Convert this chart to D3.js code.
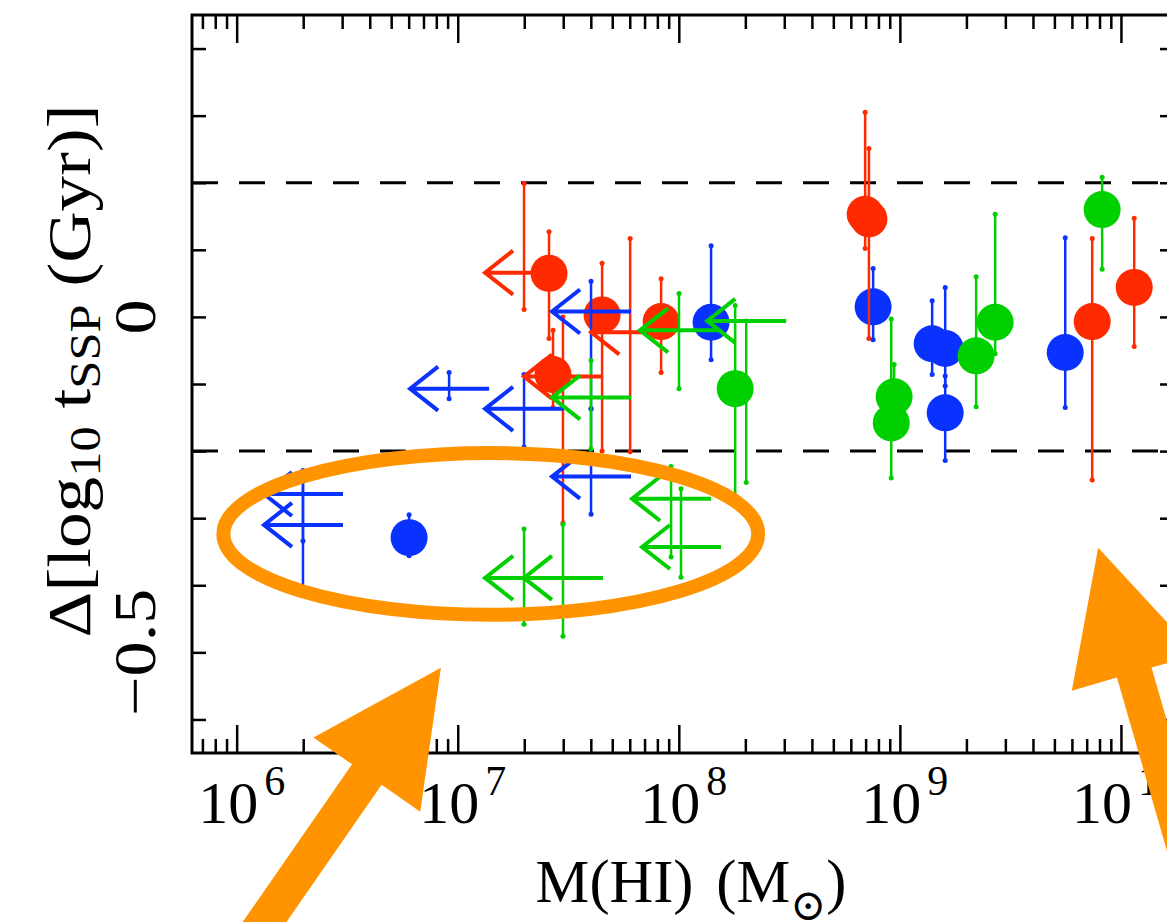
<!DOCTYPE html>
<html>
<head>
<meta charset="utf-8">
<script src="https://cdn.jsdelivr.net/npm/d3@7"></script>
<style>
  html, body { margin: 0; padding: 0; background: #fff; overflow: hidden; }
  text { font-family: "Liberation Serif", "Times New Roman", "DejaVu Serif", serif; fill: #000; }
</style>
</head>
<body>
<svg id="chart" width="1167" height="922"></svg>
<script>
// Each row: [log10 M(HI), Δ log t_SSP, lower end of error bar, upper end of error bar]
const redDetections = [
  [7.413,  0.065, -0.032,  0.127],
  [7.653,  0.003, -0.200,  0.080],
  [7.920, -0.007, -0.083,  0.057],
  [8.843,  0.153,  0.102,  0.305],
  [8.860,  0.146, -0.032,  0.251],
  [9.870, -0.007, -0.243,  0.117],
  [10.060, 0.044, -0.044,  0.147],
  [7.431, -0.086, -0.135, -0.020]
];
const redLimits = [
  [7.300,  0.066,  0.011,  0.199],
  [7.780, -0.023, -0.201,  0.117],
  [7.476, -0.089, -0.307,  0.000]
];
const blueDetections = [
  [8.146, -0.008, -0.064,  0.106],
  [8.879,  0.015, -0.034,  0.072],
  [9.146, -0.040, -0.086,  0.024],
  [9.205, -0.047, -0.103,  0.044],
  [9.205, -0.143, -0.214, -0.088],
  [9.748, -0.053, -0.135,  0.118],
  [6.780, -0.329, -0.356, -0.295]
];
const blueLimits = [
  [7.603,  0.008, -0.137,  0.053],
  [7.603, -0.238, -0.294, -0.137],
  [7.300, -0.137, -0.194, -0.086],
  [6.961, -0.107, -0.122, -0.083],
  [6.300, -0.264, -0.334, -0.232],
  [6.300, -0.310, -0.404, -0.229]
];
const greenDetections = [
  [8.255, -0.107, -0.267,  0.017],
  [8.974, -0.119, -0.170, -0.071],
  [8.961, -0.158, -0.240, -0.003],
  [9.345, -0.058, -0.134,  0.060],
  [9.431, -0.008, -0.055,  0.153],
  [9.915,  0.160,  0.071,  0.208]
];
const greenLimits = [
  [8.305, -0.006, -0.247, -0.006],
  [8.001, -0.020, -0.107,  0.035],
  [7.603, -0.120, -0.197, -0.065],
  [7.300, -0.389, -0.458, -0.316],
  [7.476, -0.389, -0.476, -0.309],
  [7.965, -0.271, -0.358, -0.223],
  [8.010, -0.343, -0.388, -0.256]
];

// Axis labelling
const xTickExponents = [6, 7, 8, 9, 10];
const yTickLabels = [[0, "0"], [-0.5, "\u22120.5"]];
const scatterBand = [-0.2, 0.2];

// Highlight ring (log10 M extent, Δ extent) and two pointer arrows [tip, tail]
const ringLogM = [5.940, 8.359];
const ringDelta = [-0.444, -0.203];
const pointerTips = [[6.924, -0.523], [9.897, -0.344]];
const pointerTails = [[6.006, -0.959], [10.436, -0.959]];

const COLORS = { red: "#ff2a00", blue: "#0a32ff", green: "#00cf00", accent: "#ff9400" };

const L = 192, R = 1174, T = 15, B = 753;
const svg = d3.select("#chart");

const x = d3.scaleLog().domain([10 ** 5.798, 10 ** 10.24]).range([L, R]);
const y = d3.scaleLinear().domain([-0.65, 0.45]).range([B, T]);

// Reference band
scatterBand.forEach(v => {
  svg.append("line")
    .attr("x1", L).attr("x2", R).attr("y1", y(v)).attr("y2", y(v))
    .attr("stroke", "#000").attr("stroke-width", 3)
    .attr("stroke-dasharray", "26,21");
});

// Ticks
const majorX = xTickExponents.map(e => 10 ** e);
const minorX = [];
for (let e = 5; e <= 10; e++) {
  for (let m = 2; m <= 9; m++) {
    const v = m * 10 ** e;
    if (v >= x.domain()[0] && v <= x.domain()[1]) minorX.push(v);
  }
}
const yTicks = d3.range(-6, 5).map(i => i / 10);

function styleAxis(g) {
  g.select(".domain").remove();
  g.selectAll(".tick line").attr("stroke", "#000").attr("stroke-width", 2.5);
  g.selectAll(".tick text").remove();
}
svg.append("g").attr("transform", `translate(0,${B})`)
  .call(d3.axisBottom(x).tickValues(majorX).tickSizeInner(-28).tickSizeOuter(0)).call(styleAxis);
svg.append("g").attr("transform", `translate(0,${B})`)
  .call(d3.axisBottom(x).tickValues(minorX).tickSizeInner(-14).tickSizeOuter(0)).call(styleAxis);
svg.append("g").attr("transform", `translate(0,${T})`)
  .call(d3.axisTop(x).tickValues(majorX).tickSizeInner(-28).tickSizeOuter(0)).call(styleAxis);
svg.append("g").attr("transform", `translate(0,${T})`)
  .call(d3.axisTop(x).tickValues(minorX).tickSizeInner(-14).tickSizeOuter(0)).call(styleAxis);
svg.append("g").attr("transform", `translate(${L},0)`)
  .call(d3.axisLeft(y).tickValues(yTicks).tickSizeInner(-14).tickSizeOuter(0)).call(styleAxis);
svg.append("g").attr("transform", `translate(${R},0)`)
  .call(d3.axisRight(y).tickValues(yTicks).tickSizeInner(-14).tickSizeOuter(0)).call(styleAxis);

// Frame
svg.append("rect").attr("x", L).attr("y", T).attr("width", R - L).attr("height", B - T)
  .attr("fill", "none").attr("stroke", "#000").attr("stroke-width", 3);

// Tick labels
xTickExponents.forEach(e => {
  const t = svg.append("text")
    .attr("x", x(10 ** e) + 5).attr("y", 823)
    .attr("text-anchor", "middle").style("font-size", "60px");
  t.append("tspan").text("10");
  t.append("tspan").attr("dx", 6).attr("dy", -28).style("font-size", "42px").text(e);
});
yTickLabels.forEach(([v, s]) => {
  svg.append("text")
    .attr("transform", `translate(155,${y(v)}) rotate(-90) scale(1.17,1)`)
    .attr("text-anchor", "middle").style("font-size", "60px").text(s);
});

// Axis titles
const yt = svg.append("text").attr("text-anchor", "middle").style("font-size", "62px");
yt.append("tspan").text("\u0394[log");
yt.append("tspan").attr("dy", 10).style("font-size", "44px").text("10");
yt.append("tspan").attr("dy", -10).text(" t");
yt.append("tspan").attr("dy", 10).style("font-size", "44px").text("SSP");
yt.append("tspan").attr("dy", -10).text("  (Gyr)]");
const ytw = yt.node().getComputedTextLength();
yt.attr("transform", `translate(90,371) rotate(-90) scale(${533 / ytw},1)`);

const xt = svg.append("text").attr("text-anchor", "middle").style("font-size", "62px");
xt.append("tspan").text("M(HI)");
xt.append("tspan").attr("dx", 8).text(" (M");
xt.append("tspan").attr("dy", 18).style("font-size", "44px").text("\u2299");
xt.append("tspan").attr("dy", -18).text(")");
const xtw = xt.node().getComputedTextLength();
xt.attr("transform", `translate(691,902) scale(${303 / xtw},1)`);

// Data marks
const px = d => x(10 ** d[0]);
const layers = [
  { det: redDetections, lim: redLimits, color: COLORS.red },
  { det: blueDetections, lim: blueLimits, color: COLORS.blue },
  { det: greenDetections, lim: greenLimits, color: COLORS.green }
];

const gCircles = svg.append("g");
const gBars = svg.append("g");
const gLimits = svg.append("g");

layers.forEach(({ det, lim, color }) => {
  gCircles.selectAll(null).data(det).join("circle")
    .attr("cx", px).attr("cy", d => y(d[1])).attr("r", 18.5).attr("fill", color);

  const all = det.concat(lim);
  gBars.selectAll(null).data(all).join("line")
    .attr("x1", px).attr("x2", px)
    .attr("y1", d => y(d[2])).attr("y2", d => y(d[3]))
    .attr("stroke", color).attr("stroke-width", 2.5);
  gBars.selectAll(null).data(all.flatMap(d => [[d[0], d[2]], [d[0], d[3]]])).join("circle")
    .attr("cx", px).attr("cy", d => y(d[1])).attr("r", 2.5).attr("fill", color);

  // Upper limits in M(HI): horizontal bar with an open arrowhead pointing to lower mass
  gLimits.selectAll(null).data(lim).join("path")
    .attr("d", d => {
      const cx = px(d), cy = y(d[1]);
      const tip = cx - 39;
      return `M${cx + 40},${cy}H${tip}M${tip + 28},${cy - 22}L${tip},${cy}L${tip + 28},${cy + 22}`;
    })
    .attr("fill", "none").attr("stroke", color).attr("stroke-width", 4)
    .attr("stroke-linejoin", "miter");
});

// Highlight ring
const rx0 = x(10 ** ringLogM[0]), rx1 = x(10 ** ringLogM[1]);
const ry0 = y(ringDelta[1]), ry1 = y(ringDelta[0]);
svg.append("ellipse")
  .attr("cx", (rx0 + rx1) / 2).attr("cy", (ry0 + ry1) / 2)
  .attr("rx", (rx1 - rx0) / 2).attr("ry", (ry1 - ry0) / 2)
  .attr("fill", "none").attr("stroke", COLORS.accent).attr("stroke-width", 14);

// Pointer arrows
pointerTips.forEach((tipD, i) => {
  const tailD = pointerTails[i];
  const tx = x(10 ** tipD[0]), ty = y(tipD[1]);
  const sx = x(10 ** tailD[0]), sy = y(tailD[1]);
  const len = Math.hypot(tx - sx, ty - sy);
  const ux = (tx - sx) / len, uy = (ty - sy) / len;
  const nx = -uy, ny = ux;
  const hl = 130, hw = 65, sw = 18;
  const bx = tx - ux * hl, by = ty - uy * hl;
  const pts = [
    [sx + nx * sw, sy + ny * sw], [bx + nx * sw, by + ny * sw], [bx + nx * hw, by + ny * hw],
    [tx, ty],
    [bx - nx * hw, by - ny * hw], [bx - nx * sw, by - ny * sw], [sx - nx * sw, sy - ny * sw]
  ];
  svg.append("path").attr("d", d3.line()(pts) + "Z").attr("fill", COLORS.accent);
});
</script>
</body>
</html>
